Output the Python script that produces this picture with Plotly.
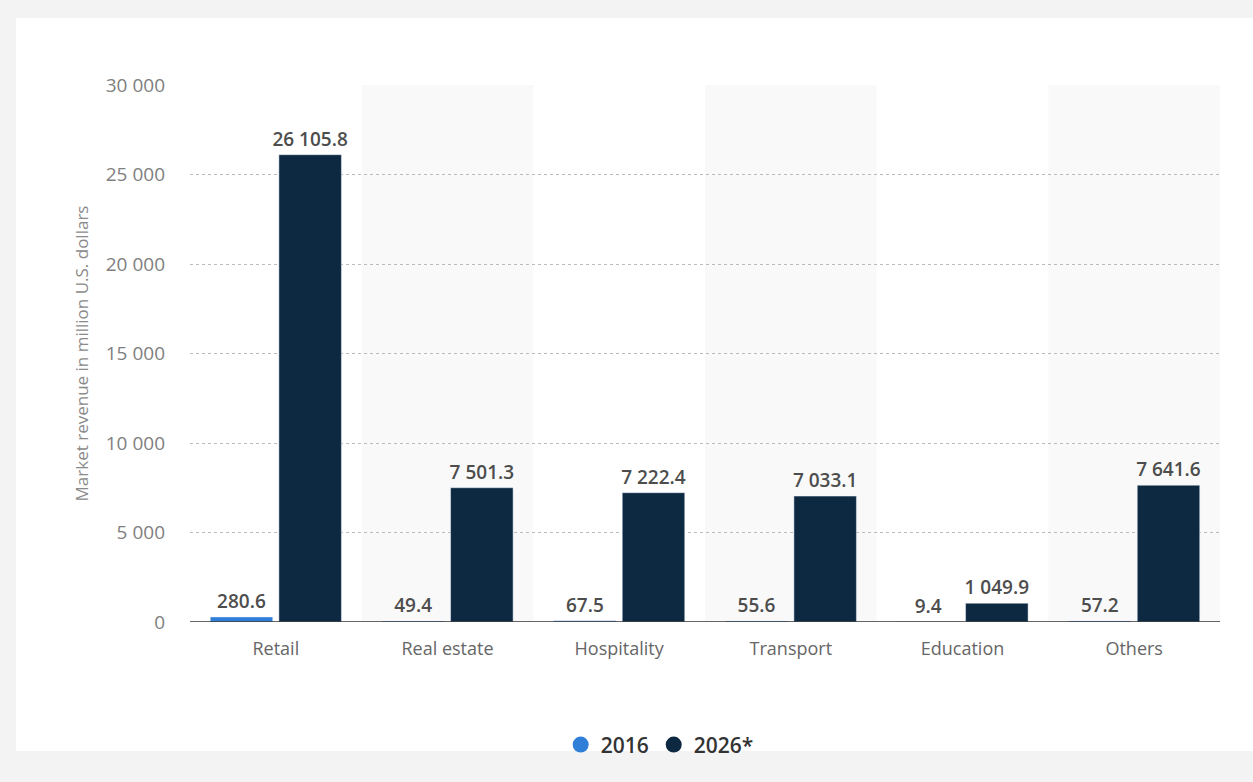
import plotly.graph_objects as go

categories = ["Retail", "Real estate", "Hospitality", "Transport", "Education", "Others"]
values_2016 = [280.6, 49.4, 67.5, 55.6, 9.4, 57.2]
values_2026 = [26105.8, 7501.3, 7222.4, 7033.1, 1049.9, 7641.6]
series_names = ["2016", "2026*"]
tick_vals = [0, 5000, 10000, 15000, 20000, 25000, 30000]
tick_text = ["0", "5 000", "10 000", "15 000", "20 000", "25 000", "30 000"]

color_2016 = "#2f7ed8"
color_2026 = "#0d2841"


def fmt(v):
    return f"{v:,.1f}".replace(",", " ")


W, H = 1253, 782
L, R, T, B = 190, 33, 85, 160
pw = W - L - R
ph = H - T - B

label_font = dict(family="Open Sans", size=19, color="#4d4d4d", weight=600)

fig = go.Figure()
fig.add_trace(go.Bar(
    x=categories, y=values_2016, name=series_names[0], marker_color=color_2016,
    text=[fmt(v) for v in values_2016], textposition="outside", cliponaxis=False,
    constraintext="none", textfont=label_font, showlegend=False,
))
fig.add_trace(go.Bar(
    x=categories, y=values_2026, name=series_names[1], marker_color=color_2026,
    text=[fmt(v) for v in values_2026], textposition="outside", cliponaxis=False,
    constraintext="none", textfont=label_font, showlegend=False,
))
# legend entries with circle symbols
for nm, c in zip(series_names, [color_2016, color_2026]):
    fig.add_trace(go.Scatter(x=[None], y=[None], mode="markers", name=nm,
                             marker=dict(color=c, size=20, symbol="circle")))

shapes = []
# card background
shapes.append(dict(type="rect", xref="paper", yref="paper",
                   x0=(16 - L) / pw, x1=(W + 5 - L) / pw,
                   y0=(T + ph - 751) / ph, y1=(T + ph - 18) / ph,
                   fillcolor="white", line=dict(width=0), layer="below"))
# alternating category bands
for i in range(len(categories)):
    if i % 2 == 1:
        shapes.append(dict(type="rect", xref="x", yref="paper", x0=i - 0.5, x1=i + 0.5,
                           y0=0, y1=1, fillcolor="#f9f9f9", line=dict(width=0), layer="below"))
# baseline
shapes.append(dict(type="line", xref="paper", yref="y", x0=0, x1=1, y0=0, y1=0,
                   line=dict(color="#333333", width=1.5)))

fig.update_layout(
    width=W, height=H,
    margin=dict(l=L, r=R, t=T, b=B),
    paper_bgcolor="#f3f3f3", plot_bgcolor="rgba(0,0,0,0)",
    barmode="group", bargap=0.2, bargroupgap=0.09,
    shapes=shapes,
    font=dict(family="Open Sans", color="#666666"),
    legend=dict(orientation="h", x=0.456, xanchor="center", y=-0.229, yanchor="middle",
                font=dict(family="Open Sans", size=21, color="#333333", weight=600),
                itemwidth=30, bgcolor="rgba(0,0,0,0)"),
    xaxis=dict(showgrid=False, showline=False, ticks="", tickfont=dict(size=18, color="#666666"),
               ticklabelstandoff=14, range=[-0.5, 5.5]),
    yaxis=dict(range=[0, 30000], tickvals=tick_vals, ticktext=tick_text,
               showgrid=True, gridcolor="#bbbbbb", griddash="dot", gridwidth=1,
               zeroline=False, showline=False, ticks="", ticklabelstandoff=24,
               tickfont=dict(size=19, color="#808080"),
               title=dict(text="Market revenue in million U.S. dollars", standoff=12,
                          font=dict(size=17, color="#8a8a8a"))),
)

fig.write_html("out.html")
